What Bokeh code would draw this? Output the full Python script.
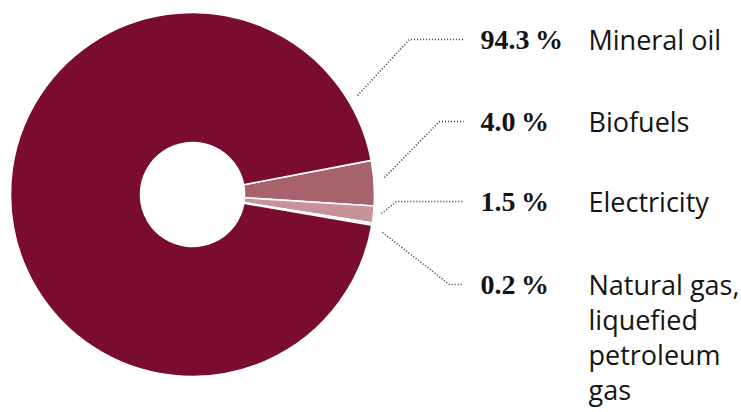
import numpy as np
from bokeh.plotting import figure
from bokeh.models import Range1d
from bokeh.embed import file_html
from bokeh.resources import INLINE
from bokeh.core.properties import value

# Energy sources (share of final energy consumption in transport, %)
categories = ["Mineral oil", "Biofuels", "Electricity", "Natural gas,\nliquefied\npetroleum\ngas"]
shares = [94.3, 4.0, 1.5, 0.2]
share_labels = ["94.3\u2009%", "4.0\u2009%", "1.5\u2009%", "0.2\u2009%"]
colors = ["#7a0d2d", "#a8626b", "#c79299", "#ead3d6"]

W, H = 741, 412
p = figure(width=W, height=H, x_range=Range1d(0, W), y_range=Range1d(0, H),
           output_backend="svg", toolbar_location=None, min_border=0,
           outline_line_color=None)
p.axis.visible = False
p.grid.visible = False
p.background_fill_color = "white"
p.border_fill_color = "white"

def Y(y):
    # page coordinates run downwards
    return H - y

# donut geometry
cx, cy = 192, Y(194)
r_out, r_in = 182, 52
first_edge = np.deg2rad(10.8)  # upper edge of the biofuels slice

# slices after the first run clockwise; mineral oil fills the remaining circle
vals = np.array(shares[1:] + shares[:1])
cols = colors[1:] + colors[:1]
span = 2 * np.pi * vals / vals.sum()
ends = first_edge - np.concatenate([[0], np.cumsum(span)[:-1]])
starts = ends - span
p.annular_wedge(x=cx, y=cy, inner_radius=r_in, outer_radius=r_out,
                start_angle=starts, end_angle=ends, fill_color=cols,
                line_color="white", line_width=1.6)

# leader lines: (anchor at the ring, elbow, end) in page coordinates
leaders = [
    [(357, 95), (409, 39), (463, 39)],
    [(384, 177), (439, 121), (463, 121)],
    [(381, 213), (396, 201), (463, 201)],
    [(382, 232), (449, 284), (463, 284)],
]
for pts in leaders:
    p.line([q[0] for q in pts], [Y(q[1]) for q in pts], line_color="#3a3a3a",
           line_width=1.6, line_dash="1 2")

# labels
x_pct, x_cat, line_gap = 480, 588, 35
for lab, cat, pts in zip(share_labels, categories, leaders):
    yy = pts[-1][1]
    p.text(x=[x_pct], y=[Y(yy)], text=[lab], text_font=value("Liberation Serif"),
           text_font_style="bold", text_font_size="28px", text_color="#141414",
           text_baseline="middle", text_align="left")
    rows = cat.split("\n")
    p.text(x=[x_cat] * len(rows), y=[Y(yy + i * line_gap) for i in range(len(rows))],
           text=rows, text_font=value("Open Sans"), text_font_size="27px",
           text_color="#141414", text_baseline="middle", text_align="left")

open("out.html", "w").write(file_html(p, INLINE))
